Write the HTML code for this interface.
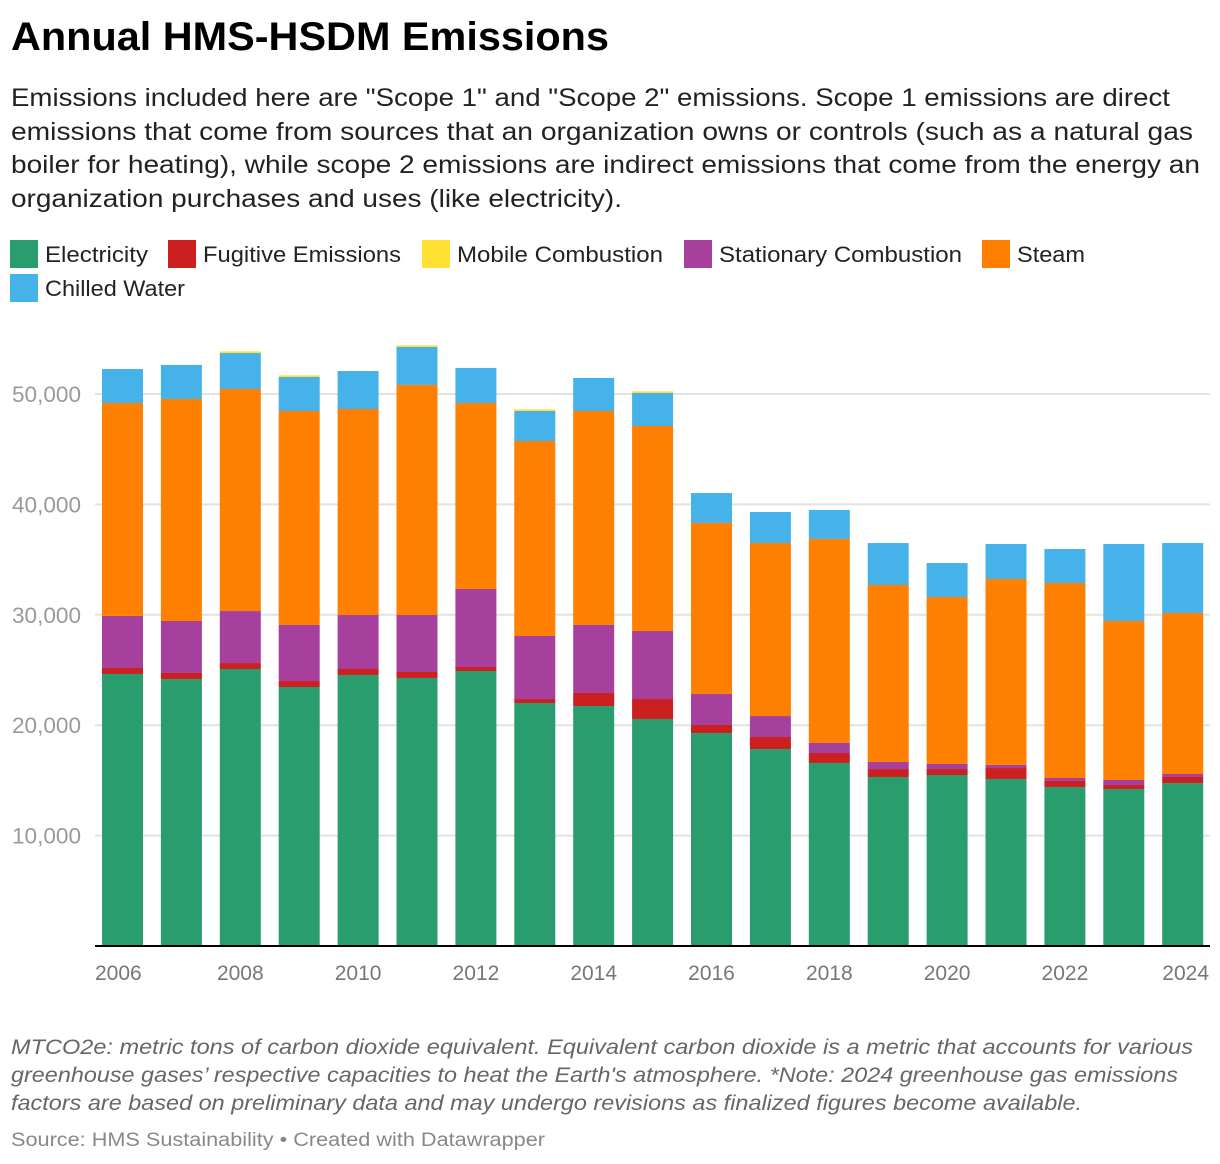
<!DOCTYPE html>
<html><head><meta charset="utf-8"><style>
html,body{margin:0;padding:0;background:#fff}
svg{display:block;font-family:"Liberation Sans",Arial,sans-serif}
</style></head><body>
<svg id="chart" width="1220" height="1164" viewBox="0 0 1220 1164" xmlns="http://www.w3.org/2000/svg">
<text x="11" y="50" font-size="40" font-weight="bold" fill="#000" textLength="598" lengthAdjust="spacingAndGlyphs">Annual HMS-HSDM Emissions</text>
<g font-size="25" fill="#222">
<text x="11" y="106" textLength="1159" lengthAdjust="spacingAndGlyphs">Emissions included here are "Scope 1" and "Scope 2" emissions. Scope 1 emissions are direct</text>
<text x="11" y="140" textLength="1182" lengthAdjust="spacingAndGlyphs">emissions that come from sources that an organization owns or controls (such as a natural gas</text>
<text x="11" y="173" textLength="1189" lengthAdjust="spacingAndGlyphs">boiler for heating), while scope 2 emissions are indirect emissions that come from the energy an</text>
<text x="11" y="207" textLength="611" lengthAdjust="spacingAndGlyphs">organization purchases and uses (like electricity).</text>
</g>
<g id="legend" font-size="22" fill="#222"></g>
<g id="grid"></g>
<g id="bars"></g>
<g id="xaxis" font-size="21" fill="#777"></g>
<g font-size="21" font-style="italic" fill="#666">
<text x="11" y="1054" textLength="1182" lengthAdjust="spacingAndGlyphs">MTCO2e: metric tons of carbon dioxide equivalent. Equivalent carbon dioxide is a metric that accounts for various</text>
<text x="11" y="1082" textLength="1167" lengthAdjust="spacingAndGlyphs">greenhouse gases’ respective capacities to heat the Earth's atmosphere. *Note: 2024 greenhouse gas emissions</text>
<text x="11" y="1110" textLength="1071" lengthAdjust="spacingAndGlyphs">factors are based on preliminary data and may undergo revisions as finalized figures become available.</text>
</g>
<text x="11" y="1146" font-size="19" fill="#888" textLength="534" lengthAdjust="spacingAndGlyphs">Source: HMS Sustainability • Created with Datawrapper</text>
</svg>
<script>
const years=[2006,2007,2008,2009,2010,2011,2012,2013,2014,2015,2016,2017,2018,2019,2020,2021,2022,2023,2024];
const electricity=[24640,24180,25090,23460,24550,24280,24910,22010,21740,20560,19290,17840,16580,15310,15490,15130,14400,14220,14760];
const fugitive=[540,550,540,540,540,540,360,360,1180,1810,730,1090,900,720,540,990,550,360,550];
const mobile=[0,0,150,150,0,150,0,150,0,150,0,0,0,0,0,0,0,0,0];
const stationary=[4720,4710,4710,5080,4890,5160,7070,5710,6160,6160,2810,1900,910,640,460,280,270,460,270];
const steam=[19280,20110,20110,19380,18660,20840,16840,17660,19380,18570,15490,15670,18480,16030,15120,16840,17660,14400,14580];
const chilled=[3080,3080,3260,3080,3440,3440,3180,2720,2990,2990,2710,2810,2620,3800,3080,3170,3080,6970,6340];
const yTicks=[10000,20000,30000,40000,50000];
const yTickLabels=["10,000","20,000","30,000","40,000","50,000"];
const seriesNames=["Electricity","Fugitive Emissions","Mobile Combustion","Stationary Combustion","Steam","Chilled Water"];

const NS="http://www.w3.org/2000/svg";
const colors=["#2a9d6e","#cc1f1f","#ffe033","#a6409c","#ff7f00","#45b3e9"];
const stackOrder=[electricity,fugitive,stationary,steam,chilled,mobile];
const stackColor=[colors[0],colors[1],colors[3],colors[4],colors[5],colors[2]];
const stackNames=["electricity","fugitive","stationary","steam","chilled-water","mobile"];
const y0=946, pxPer=552/50000;
const yS=v=>y0-v*pxPer;
const x0=102, step=58.9, bw=41;
const xS=i=>x0+i*step;
function mk(t,a,p){const e=document.createElementNS(NS,t);for(const k in a)e.setAttribute(k,a[k]);p.appendChild(e);return e;}

const grid=document.getElementById('grid');
yTicks.forEach((v,i)=>{
  const l=mk('line',{x1:95,x2:1210,y1:yS(v),y2:yS(v),stroke:'#e2e2e2','stroke-width':2},grid);
  
  
  const t=mk('text',{x:81,y:yS(v)+8,'text-anchor':'end','font-size':22,fill:'#999',textLength:69,lengthAdjust:'spacingAndGlyphs'},grid);
  
  
  t.textContent=yTickLabels[i];
});

const bars=document.getElementById('bars');
years.forEach((yr,i)=>{
  let acc=0;
  stackOrder.forEach((s,k)=>{
    const v=s[i]; if(v<=0)return;
    const r=mk('rect',{x:xS(i),width:bw,y:yS(acc+v),height:v*pxPer,fill:stackColor[k]},bars);
    
    
    acc+=v;
  });
});

const xa=document.getElementById('xaxis');
const base=mk('line',{x1:95,x2:1210,y1:y0,y2:y0,stroke:'#000','stroke-width':2},xa);


years.forEach((yr,i)=>{
  if(i%2)return;
  let anchor='middle',x=xS(i)+bw/2;
  if(i===years.length-1){anchor='end';x=1209;}
  if(i===0){anchor='start';x=95;}
  const t=mk('text',{x:x,y:980,'text-anchor':anchor},xa);
  
  
  t.textContent=yr;
});

const lg=document.getElementById('legend');
const lx=[10,168,422,684,982,10], ly=[240,240,240,240,240,274], tw=[103,198,206,243,68,140];
seriesNames.forEach((n,i)=>{
  const g=mk('g',{},lg);
  
  
  mk('rect',{x:lx[i],y:ly[i],width:28,height:28,fill:colors[i]},g);
  const t=mk('text',{x:lx[i]+35,y:ly[i]+22,textLength:tw[i],lengthAdjust:'spacingAndGlyphs'},g);
  t.textContent=n;
});
</script>
</body></html>
